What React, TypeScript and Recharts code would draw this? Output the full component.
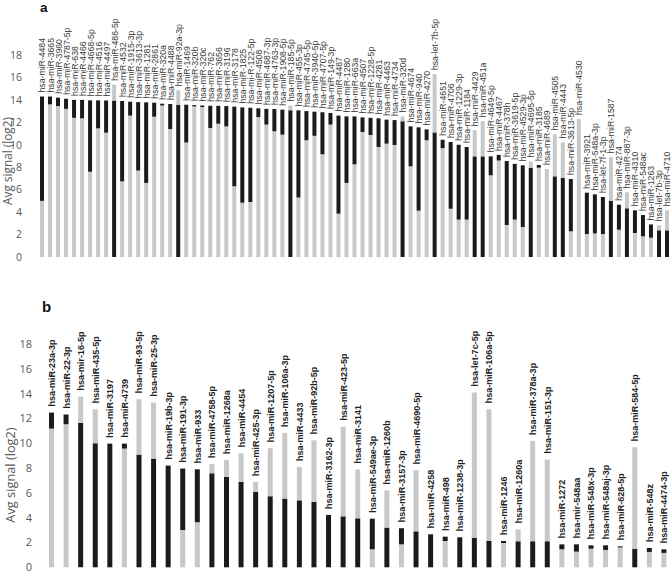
import { Bar, BarChart, Cell, LabelList, XAxis, YAxis } from 'recharts';

// Two panels of overlapped bars: the smaller of the two values sits in front,
// so each bar is drawn as a lower segment (min) + the remainder up to the max.
const GRAY = '#c8c8c8';
const BLACK = '#1b1b1b';
const AXIS_FONT = '"Open Sans", sans-serif';
const LABEL_FONT = '"Liberation Sans", Arial, sans-serif';

const yTicks = [0, 2, 4, 6, 8, 10, 12, 14, 16, 18];

// ---- panel a
const namesA = [
  'hsa-miR-4484', 'hsa-miR-3665', 'hsa-miR-3960', 'hsa-miR-4787-5p', 'hsa-miR-638', 'hsa-miR-4466',
  'hsa-miR-4668-5p', 'hsa-miR-4516', 'hsa-miR-4497', 'hsa-miR-486-5p', 'hsa-miR-4532', 'hsa-miR-1915-3p',
  'hsa-miR-3613-3p', 'hsa-miR-1281', 'hsa-miR-2861', 'hsa-miR-320a', 'hsa-miR-4488', 'hsa-miR-92a-3p',
  'hsa-miR-1469', 'hsa-miR-320b', 'hsa-miR-320c', 'hsa-miR-762', 'hsa-miR-3656', 'hsa-miR-3196',
  'hsa-miR-3178', 'hsa-miR-1825', 'hsa-mi-R-122-5p', 'hsa-miR-4508', 'hsa-miR-4687-3p', 'hsa-miR-4763-3p',
  'hsa-miR-1908-5p', 'hsa-miR-185-5p', 'hsa-miR-455-3p', 'hsa-miR-4745-5p', 'hsa-miR-3940-5p',
  'hsa-miR-4707-5p', 'hsa-miR-149-3p', 'hsa-miR-4487', 'hsa-miR-1280', 'hsa-miR-663a', 'hsa-miR-4507',
  'hsa-miR-1228-5p', 'hsa-miR-4281', 'hsa-miR-4463', 'hsa-miR-4734', 'hsa-miR-320d', 'hsa-miR-4674',
  'hsa-miR-940', 'hsa-miR-4270', 'hsa-let-7b-5p', 'hsa-miR-4651', 'hsa-miR-4706', 'hsa-miR-1229-3p',
  'hsa-miR-1184', 'hsa-miR-4429', 'hsa-miR-451a', 'hsa-miR-4649-5p', 'hsa-miR-4467', 'hsa-miR-378h',
  'hsa-miR-3619-5p', 'hsa-miR-4529-3p', 'hsa-miR-4695-5p', 'hsa-miR-3185', 'hsa-miR-4689', 'hsa-miR-4505',
  'hsa-miR-4443', 'hsa-miR-3613-5p', 'hsa-miR-4530', 'hsa-miR-3921', 'hsa-miR-548a-3p', 'hsa-let-7f-1-3p',
  'hsa-miR-1587', 'hsa-miR-4274', 'hsa-miR-887-3p', 'hsa-miR-4310', 'hsa-miR-548ac', 'hsa-miR-1263',
  'hsa-let-7b-3p', 'hsa-miR-4710',
];
const grayA = [
  5.0, 13.6, 13.45, 13.2, 12.4, 12.35, 7.6, 11.46, 11.08, 15.35, 6.74, 12.6,
  7.7, 6.6, 12.5, 13.5, 11.4, 14.85, 10.2, 13.42, 13.36, 11.5, 11.88, 11.64,
  6.3, 4.84, 4.9, 12.47, 11.8, 11.2, 10.9, 13.5, 5.3, 10.4, 10.8,
  9.15, 11.8, 3.86, 6.6, 8.26, 11.14, 10.87, 9.8, 10.1, 9.98, 12.53, 8.08,
  4.13, 10.4, 16.3, 9.7, 4.3, 3.33, 3.33, 11.3, 12.1, 7.28, 8.6, 2.85,
  3.33, 2.67, 8.52, 7.96, 7.84, 10.93, 10.2, 2.29, 12.3, 2.05, 2.1, 2.05,
  8.9, 2.43, 5.76, 2.14, 1.84, 1.72, 2.82, 4.16,
];
const blackA = [
  14.3, 14.3, 14.2, 14.1, 14.0, 14.0, 13.96, 13.96, 13.95, 13.94, 13.9, 13.84,
  13.8, 13.78, 13.75, 13.66, 13.63, 13.57, 13.57, 13.54, 13.5, 13.48, 13.47, 13.45,
  13.4, 13.33, 13.3, 13.25, 13.2, 13.19, 13.13, 13.07, 13.07, 13.0, 12.95,
  12.9, 12.83, 12.6, 12.53, 12.53, 12.44, 12.4, 12.36, 12.24, 12.2, 12.1, 11.64,
  11.55, 11.37, 11.1, 10.45, 10.25, 10.0, 9.8, 8.97, 8.97, 8.97, 9.1, 8.55,
  8.3, 8.17, 7.96, 8.2, 0, 7.19, 7.04, 6.95, 0, 5.73, 5.58, 5.35,
  5.0, 4.66, 4.34, 4.16, 3.74, 2.9, 2.38, 2.38,
];

// ---- panel b
const namesB = [
  'hsa-miR-23a-3p', 'hsa-miR-22-3p', 'hsa-mir-16-5p', 'hsa-miR-435-5p', 'hsa-miR-3197', 'hsa-miR-4739',
  'hsa-miR-93-5p', 'hsa-miR-25-3p', 'hsa-miR-19b-3p', 'hsa-miR-191-3p', 'hsa-miR-933', 'hsa-miR-4758-5p',
  'hsa-miR-1268a', 'hsa-miR-4454', 'hsa-miR-425-3p', 'hsa-miR-1207-5p', 'hsa-miR-106a-3p', 'hsa-miR-4433',
  'hsa-miR-92b-5p', 'hsa-miR-3162-3p', 'hsa-miR-423-5p', 'hsa-miR-3141', 'hsa-miR-549ae-3p', 'hsa-miR-1260b',
  'hsa-miR-3157-3p', 'hsa-miR-4690-5p', 'hsa-miR-4258', 'hsa-miR-498', 'hsa-miR-1238-3p', 'hsa-let-7c-5p',
  'hsa-miR-106a-5p', 'hsa-miR-1246', 'hsa-miR-1260a', 'hsa-miR-378a-3p', 'hsa-miR-151-3p', 'hsa-miR-1272',
  'hsa-mir-548aa', 'hsa-miR-548x-3p', 'hsa-miR-548aj-3p', 'hsa-miR-628-5p', 'hsa-miR-584-5p', 'hsa-miR-548z',
  'hsa-miR-4474-3p',
];
const grayB = [
  11.18, 11.53, 13.76, 12.74, 0, 9.57, 13.55, 13.28, 0, 3.0, 3.63, 8.33,
  8.66, 9.19, 6.88, 9.6, 10.83, 8.09, 10.24, 0, 11.34, 7.88, 1.45, 6.2,
  1.85, 7.82, 0, 2.12, 0, 14.1, 12.74, 1.96, 3.06, 10.19, 8.68, 1.45,
  1.26, 1.5, 1.4, 1.6, 9.68, 1.24, 1.16,
];
const blackB = [
  12.47, 12.31, 11.64, 10.0, 9.97, 9.97, 9.09, 8.76, 8.2, 7.96, 7.9, 7.58,
  7.28, 6.88, 6.08, 5.73, 5.54, 5.4, 5.27, 4.22, 4.11, 3.95, 3.92, 3.2,
  3.15, 2.9, 2.66, 2.47, 2.42, 2.39, 2.12, 2.12, 2.1, 2.1, 2.1, 1.85,
  1.85, 1.77, 1.77, 1.69, 1.5, 1.56, 1.45,
];

function buildRows(names: string[], gray: number[], black: number[]) {
  return names.map((name, i) => {
    const g = gray[i];
    const b = black[i];
    const lo = Math.min(g, b);
    const grayFront = g <= b;
    return {
      name,
      lo,
      hi: Math.max(g, b) - lo,
      loColor: grayFront ? GRAY : BLACK,
      hiColor: grayFront ? BLACK : GRAY,
    };
  });
}

const rowsA = buildRows(namesA, grayA, blackA);
const rowsB = buildRows(namesB, grayB, blackB);

function BarLabel({ x, y, width, index, rows, gap, size, weight, color }: any) {
  const cx = Number(x) + Number(width) / 2 + 0.5;
  const ty = Number(y) - gap;
  return (
    <text
      x={cx}
      y={ty}
      transform={`rotate(-90 ${cx} ${ty})`}
      textAnchor="start"
      dominantBaseline="central"
      fontFamily={LABEL_FONT}
      fontSize={size}
      fontWeight={weight}
      fill={color}
    >
      {rows[index].name}
    </text>
  );
}

function Panel({ rows, top, height, margin, axisWidth, tickMargin, tickSize, barSize, label }: any) {
  return (
    <div style={{ position: 'absolute', left: 0, top }}>
      <BarChart width={671} height={height} data={rows} margin={margin} barCategoryGap={0}>
        <XAxis dataKey="name" hide />
        <YAxis
          domain={[0, 18]}
          ticks={yTicks}
          interval={0}
          width={axisWidth}
          axisLine={false}
          tickLine={false}
          tickSize={0}
          tickMargin={tickMargin}
          tick={{ fontSize: tickSize, fill: '#595959', fontFamily: AXIS_FONT }}
        />
        <Bar dataKey="lo" stackId="s" barSize={barSize} isAnimationActive={false}>
          {rows.map((r: any, i: number) => <Cell key={i} fill={r.loColor} />)}
        </Bar>
        <Bar dataKey="hi" stackId="s" barSize={barSize} isAnimationActive={false}>
          {rows.map((r: any, i: number) => <Cell key={i} fill={r.hiColor} />)}
          <LabelList dataKey="name" content={(p: any) => <BarLabel {...p} rows={rows} {...label} />} />
        </Bar>
      </BarChart>
    </div>
  );
}

export default function App() {
  return (
    <div style={{ position: 'absolute', left: 0, top: 0, width: 671, height: 571, background: '#fff', overflow: 'hidden' }}>
      <Panel
        rows={rowsA}
        top={0}
        height={265}
        margin={{ top: 55, right: 0, bottom: 8, left: 0 }}
        axisWidth={38}
        tickMargin={16}
        tickSize={10.5}
        barSize={4}
        label={{ gap: 4, size: 8.7, weight: 400, color: '#3a3a3a' }}
      />
      <Panel
        rows={rowsB}
        top={280}
        height={300}
        margin={{ top: 64, right: 0, bottom: 12.7, left: 0 }}
        axisWidth={44}
        tickMargin={12}
        tickSize={11}
        barSize={5}
        label={{ gap: 6, size: 9, weight: 700, color: '#222' }}
      />
      <svg width={671} height={571} style={{ position: 'absolute', left: 0, top: 0, pointerEvents: 'none' }}>
        <text x={40} y={12} fontFamily={LABEL_FONT} fontWeight={700} fontSize={13.5} fill="#111">a</text>
        <text x={42} y={311.5} fontFamily={LABEL_FONT} fontWeight={700} fontSize={15} fill="#111">b</text>
        <text x={7} y={161} transform="rotate(-90 7 161)" textAnchor="middle" dominantBaseline="central"
          fontFamily={AXIS_FONT} fontSize={11.8} fill="#595959">Avg signal (log2)</text>
        <text x={10} y={475} transform="rotate(-90 10 475)" textAnchor="middle" dominantBaseline="central"
          fontFamily={AXIS_FONT} fontSize={12.8} fill="#595959">Avg signal (log2)</text>
      </svg>
    </div>
  );
}
